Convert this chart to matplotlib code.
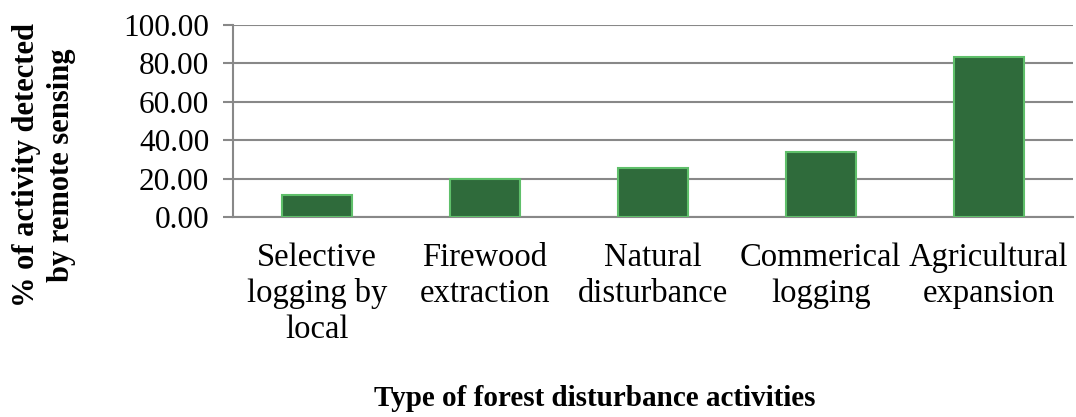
import matplotlib
matplotlib.use("Agg")
import matplotlib.pyplot as plt

categories = ["Selective\nlogging by\nlocal", "Firewood\nextraction", "Natural\ndisturbance",
              "Commerical\nlogging", "Agricultural\nexpansion"]
values = [11.5, 20.0, 25.5, 34.0, 83.5]
yticks = [0, 20, 40, 60, 80, 100]

plt.rcParams['font.family'] = ['Liberation Serif', 'DejaVu Serif']

fig = plt.figure(figsize=(10.76, 4.17), dpi=100)
ax = fig.add_axes([0.2165, 0.4796, 0.7805, 0.4604])

x = range(len(categories))
ax.bar(x, values, width=0.42, color="#2f6b3b", edgecolor="#5fbf6a", linewidth=1.5, zorder=3)

ax.set_xlim(-0.5, len(categories) - 0.5)
ax.set_ylim(0, 100)
ax.set_yticks(yticks)
ax.set_yticklabels([f"{v:.2f}" for v in yticks], fontsize=22.5)
ax.set_xticks(list(x))
ax.set_xticklabels(categories, fontsize=23.5, linespacing=1.24)
ax.tick_params(axis="x", length=0, pad=18)
ax.tick_params(axis="y", length=7, width=1.5, color="#888888", direction="out", pad=10)

ax.grid(axis="y", color="#888888", linewidth=1.5, zorder=0)
for s in ["top", "right"]:
    ax.spines[s].set_visible(False)
ax.spines["left"].set_color("#888888")
ax.spines["left"].set_linewidth(1.5)
ax.spines["bottom"].set_color("#888888")
ax.spines["bottom"].set_linewidth(1.5)

fig.text(0.041, 0.604, "% of activity detected\nby remote sensing", fontsize=22, fontweight="bold",
         rotation=90, ha="center", va="center", linespacing=1.3)
fig.text(0.553, 0.045, "Type of forest disturbance activities", fontsize=21, fontweight="bold",
         ha="center", va="center")

plt.savefig("out.png", dpi=100)
plt.close()
